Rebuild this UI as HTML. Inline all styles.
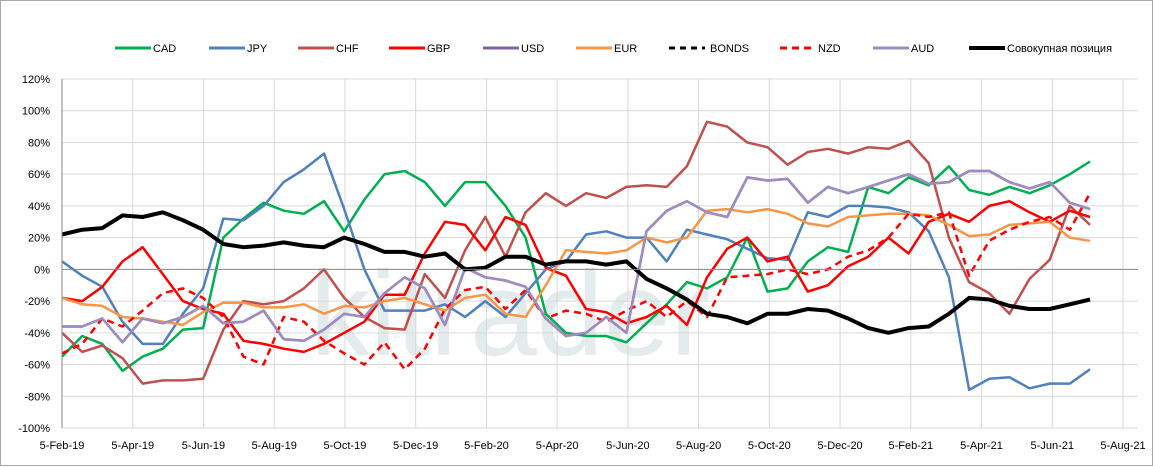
<!DOCTYPE html>
<html><head><meta charset="utf-8">
<style>
body{margin:0;background:#fff;}
svg{display:block;font-family:"Liberation Sans",sans-serif;}
</style></head>
<body>
<svg id="chart" width="1153" height="467" xmlns="http://www.w3.org/2000/svg">
<rect x="0.5" y="0.5" width="1152" height="465" fill="#fff" stroke="#a6a6a6"/>
<text x="310" y="355" font-size="120" fill="#e3ebed" font-family="Liberation Sans, sans-serif">kitrader</text>
<g id="grid"></g><g id="series"></g><g id="axes"></g><g id="legend"></g>
</svg>
<script>
const dates=["5-Feb-19","5-Apr-19","5-Jun-19","5-Aug-19","5-Oct-19","5-Dec-19","5-Feb-20","5-Apr-20","5-Jun-20","5-Aug-20","5-Oct-20","5-Dec-20","5-Feb-21","5-Apr-21","5-Jun-21","5-Aug-21"];
const yTicks=[120,100,80,60,40,20,0,-20,-40,-60,-80,-100];
const CAD=[-55,-42,-47,-64,-55,-50,-38,-37,20,32,42,37,35,43,24,44,60,62,55,40,55,55,40,20,-28,-40,-42,-42,-46,-34,-22,-8,-12,-5,20,-14,-12,5,14,11,52,48,58,53,65,50,47,52,48,53,60,68];
const JPY=[5,-4,-11,-33,-47,-47,-28,-12,32,31,40,55,63,73,38,0,-26,-26,-26,-22,-30,-20,-30,-15,0,5,22,24,20,20,5,25,22,19,13,7,6,36,33,40,40,39,36,24,-5,-76,-69,-68,-75,-72,-72,-63];
const CHF=[-40,-52,-48,-56,-72,-70,-70,-69,-38,-20,-22,-20,-12,0,-18,-30,-37,-38,-3,-18,12,33,8,36,48,40,48,45,52,53,52,65,93,90,80,77,66,74,76,73,77,76,81,67,20,-8,-15,-28,-6,6,40,28];
const GBP=[-18,-20,-11,5,14,-3,-20,-25,-28,-45,-47,-50,-52,-47,-40,-33,-16,-16,10,30,28,12,33,28,1,-4,-25,-27,-34,-30,-23,-35,-5,13,20,5,8,-14,-10,2,8,20,10,30,35,30,40,43,36,30,37,33];
const USD=[-36,-36,-31,-46,-31,-34,-30,-23,-34,-33,-26,-44,-45,-38,-28,-30,-15,-5,-12,-35,1,-5,-7,-11,-31,-42,-40,-30,-40,24,37,43,36,33,58,56,57,42,52,48,52,56,60,54,55,62,62,55,51,55,42,38];
const EUR=[-18,-22,-23,-30,-31,-33,-35,-27,-21,-21,-24,-24,-22,-28,-23,-24,-20,-18,-22,-26,-18,-16,-28,-30,-10,12,11,10,12,20,17,20,37,38,36,38,35,29,27,33,34,35,35,34,28,21,22,28,29,30,20,18];
const BONDS=[];
const NZD=[-53,-47,-31,-36,-26,-15,-12,-18,-30,-55,-60,-30,-33,-45,-53,-60,-46,-63,-50,-25,-13,-11,-25,-13,-31,-26,-28,-33,-26,-20,-30,-20,-30,-5,-4,-3,0,-3,0,8,12,20,35,33,36,-4,18,25,30,33,25,48];
const AUD=[-36,-36,-31,-46,-31,-34,-30,-23,-34,-33,-26,-44,-45,-38,-28,-30,-15,-5,-12,-35,1,-5,-7,-11,-31,-42,-40,-30,-40,24,37,43,36,33,58,56,57,42,52,48,52,56,60,54,55,62,62,55,51,55,42,38];
const TOTAL=[22,25,26,34,33,36,31,25,16,14,15,17,15,14,20,16,11,11,8,10,0,1,8,8,3,5,5,3,5,-6,-12,-19,-28,-30,-34,-28,-28,-25,-26,-31,-37,-40,-37,-36,-28,-18,-19,-23,-25,-25,-22,-19];

const NS="http://www.w3.org/2000/svg";
const X0=62,X1=1133,Y_TOP=79,Y_BOT=428,Y_MAX=120,Y_MIN=-100;
const SX0=62,SX1=1090;
function xS(i,n){return SX0+(SX1-SX0)*i/(n-1);}
function xTick(i){return X0+(1123-X0)*i/(dates.length-1);}
function yS(v){return Y_TOP+(Y_MAX-v)*(Y_BOT-Y_TOP)/(Y_MAX-Y_MIN);}
function mk(tag,attrs,parent){const e=document.createElementNS(NS,tag);for(const k in attrs)e.setAttribute(k,attrs[k]);parent.appendChild(e);return e;}
const grid=document.getElementById('grid'),axes=document.getElementById('axes'),ser=document.getElementById('series'),leg=document.getElementById('legend');
yTicks.forEach(t=>{
  if(t!==0){const l=mk('line',{x1:X0,x2:1138,y1:yS(t),y2:yS(t),stroke:'#d9d9d9','stroke-width':1},grid);
  
  }
  const tx=mk('text',{x:50,y:yS(t)+4,'font-size':11,'text-anchor':'end',fill:'#000'},axes);
  tx.textContent=t+'%';
  
  
});
dates.forEach((d,i)=>{
  const x=xTick(i);
  if(i>0){const l=mk('line',{x1:x,x2:x,y1:Y_TOP,y2:Y_BOT,stroke:'#d9d9d9','stroke-width':1},grid);
  
  }
  const tx=mk('text',{x:x,y:449,'font-size':11,'text-anchor':'middle',fill:'#000'},axes);
  tx.textContent=d;
  
  
});
const ya=mk('line',{x1:X0,x2:X0,y1:Y_TOP,y2:Y_BOT,stroke:'#868686'},axes);


const xa=mk('line',{x1:X0,x2:1138,y1:yS(0),y2:yS(0),stroke:'#868686'},axes);



const defs=[
 ['CAD',CAD,'#00b050',2.5,null],['JPY',JPY,'#4f81bd',2.5,null],['CHF',CHF,'#c0504d',2.5,null],
 ['GBP',GBP,'#ff0000',2.5,null],['USD',USD,'#8064a2',2.5,null],['EUR',EUR,'#f79646',2.5,null],
 ['BONDS',BONDS,'#000',2.5,'6,4'],['NZD',NZD,'#ff0000',2.5,'7,5'],['AUD',AUD,'#9e8bbf',2.5,null],
 ['Совокупная позиция',TOTAL,'#000',4,null]];
defs.forEach(([name,arr,col,w,dash])=>{
  if(arr.length){
    const p=arr.map((v,i)=>(i?'L':'M')+xS(i,arr.length).toFixed(1)+','+yS(v).toFixed(1)).join('');
    const a={d:p,fill:'none',stroke:col,'stroke-width':w,'stroke-linejoin':'round'};
    if(dash)a['stroke-dasharray']=dash;
    const e=mk('path',a,ser);
    
    
  }
});
const legX=[115,209,298,389,483,576,669,780,873,969];
defs.forEach(([name,arr,col,w,dash],i)=>{
  const g=mk('g',{},leg);
  
  
  const a={x1:legX[i],x2:legX[i]+36,y1:48,y2:48,stroke:col,'stroke-width':i===9?4:3};
  if(dash)a['stroke-dasharray']=i===6?'6,5':'7,5';
  mk('line',a,g);
  const t=mk('text',{x:legX[i]+38+(i===6?3:0),y:52,'font-size':11,fill:'#000'},g);
  t.textContent=name;
});
</script>
</body></html>
